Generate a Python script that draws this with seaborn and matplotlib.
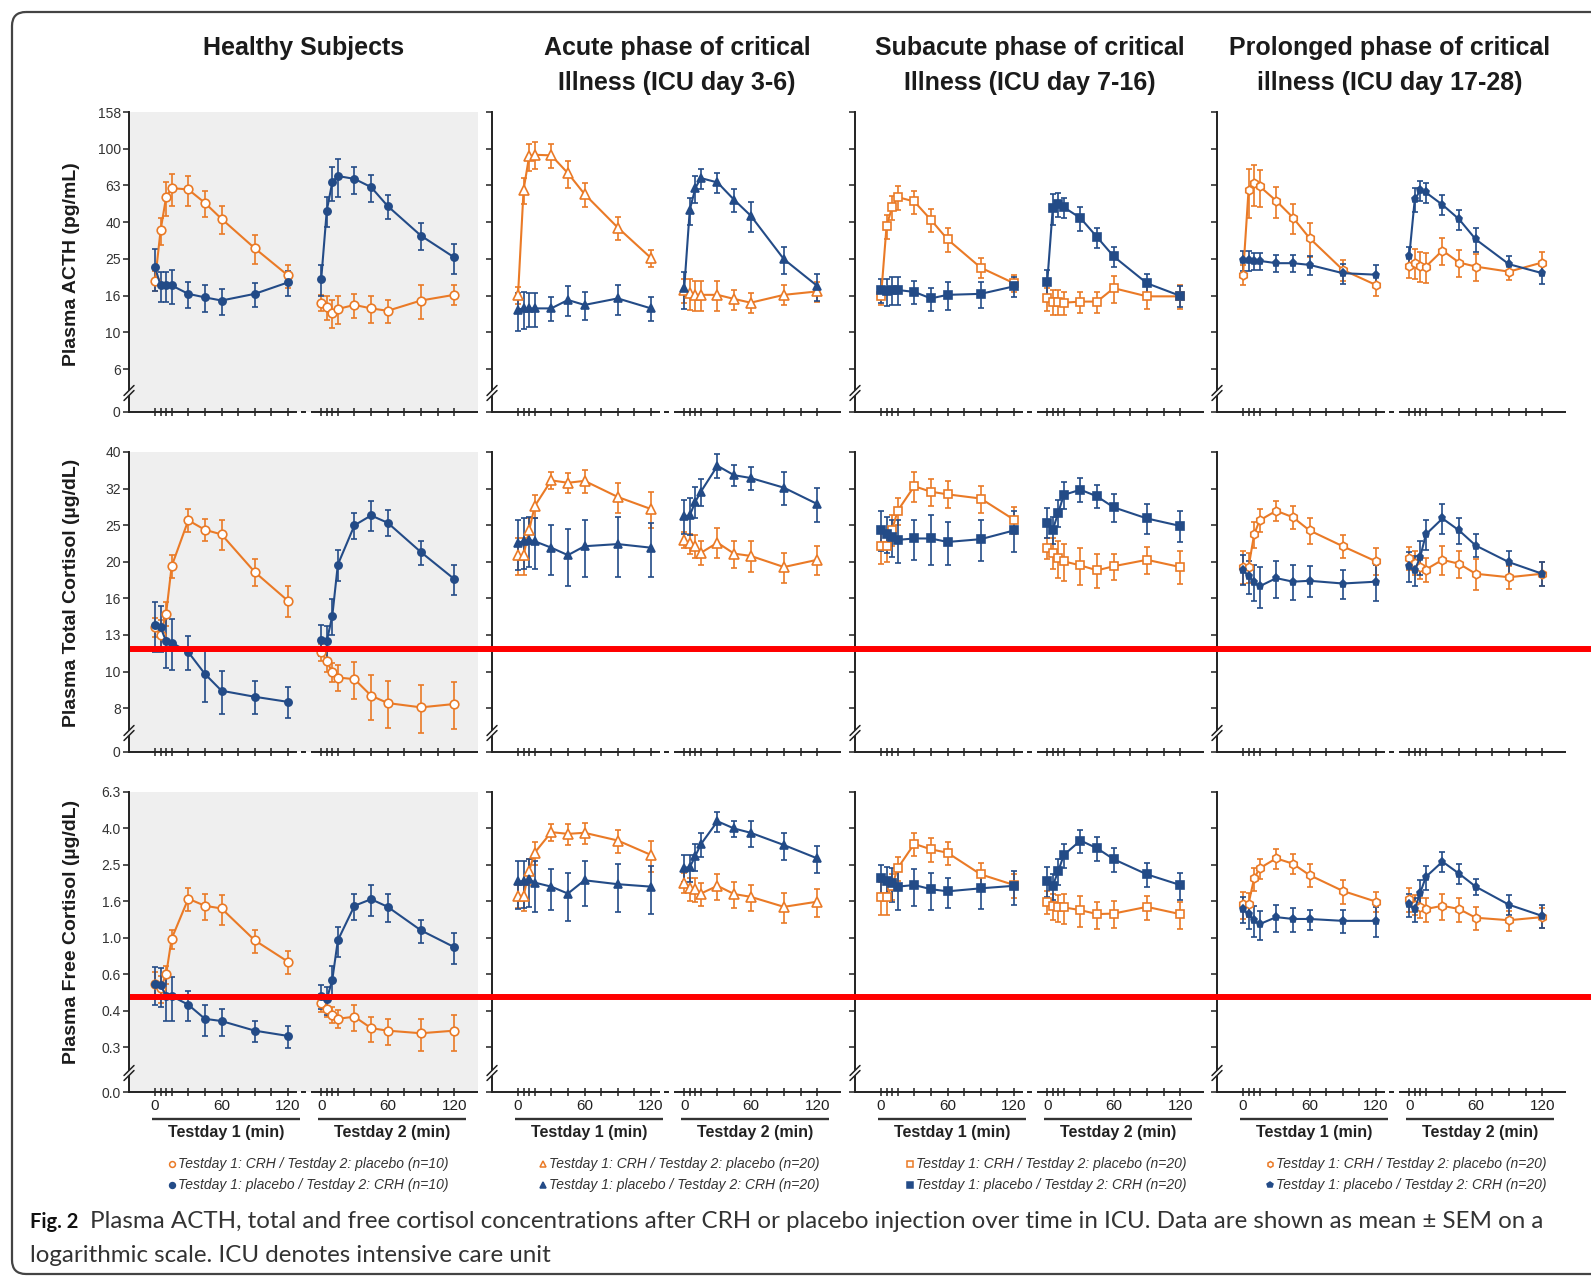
import numpy as np
import matplotlib
matplotlib.use("Agg")
import matplotlib.pyplot as plt
import matplotlib.ticker as mticker
import matplotlib.transforms as mtransforms
from matplotlib import font_manager
from matplotlib.patches import FancyBboxPatch, Polygon
import seaborn as sns

# ---------------------------------------------------------------------------
# Sampling schedule (minutes after injection) and panel headings
# ---------------------------------------------------------------------------
times = [0, 5, 10, 15, 30, 45, 60, 90, 120]
tick_times = [0, 5, 10, 15, 30, 45, 60, 75, 90, 105, 120]
labelled_times = [0, 60, 120]
DAY2_OFFSET = 150

column_titles = [
    ["Healthy Subjects"],
    ["Acute phase of critical", "Illness (ICU day 3-6)"],
    ["Subacute phase of critical", "Illness (ICU day 7-16)"],
    ["Prolonged phase of critical", "illness (ICU day 17-28)"],
]
group_n = [10, 20, 20, 20]
row_titles = ["Plasma ACTH (pg/mL)", "Plasma Total Cortisol (µg/dL)", "Plasma Free Cortisol (µg/dL)"]

acth_tick_labels = ["6", "10", "16", "25", "40", "63", "100", "158"]
total_tick_labels = ["8", "10", "13", "16", "20", "25", "32", "40"]
free_tick_labels = ["0.3", "0.4", "0.6", "1.0", "1.6", "2.5", "4.0", "6.3"]
zero_labels = ["0", "0", "0.0"]

# ---------------------------------------------------------------------------
# ACTH (pg/mL): mean and SEM, one list per column
# "crh_first" = CRH on test day 1, placebo on test day 2
# ---------------------------------------------------------------------------
acth_crh_first_day1 = [
    [19.1, 35.9, 54.5, 61, 60, 50.7, 41.5, 28.7, 20.4],
    [16, 59.7, 90.8, 92.7, 92, 73.6, 56.6, 37.2, 25.4],
    [15.7, 38, 48, 54.5, 51.6, 41, 32.1, 22.5, 18.5],
    [20.6, 59.7, 65, 62.4, 52, 42.2, 32.6, 21.9, 18.1],
]
acth_crh_first_day1_sem = [
    [2.4, 6.0, 11.4, 12, 11.1, 8.1, 7.0, 5.1, 3.0],
    [1.7, 10, 15.3, 15.6, 13.5, 12.4, 8.3, 5.5, 2.7],
    [1.6, 5.6, 7.1, 8.0, 7.6, 6.0, 4.7, 2.8, 1.9],
    [2.6, 17.6, 16.4, 14.4, 9.8, 8.0, 6.8, 2.8, 2.3],
]
acth_crh_first_day2 = [
    [14.5, 13.7, 12.8, 13.4, 14.1, 13.5, 13.1, 14.9, 16],
    [17, 16.3, 16, 16, 16, 15.2, 14.5, 16, 16.7],
    [15.3, 14.7, 14.7, 14.5, 14.7, 14.7, 17.4, 15.7, 15.7],
    [23.1, 24, 23.1, 22.8, 27.9, 24, 22.8, 21.4, 24],
]
acth_crh_first_day2_sem = [
    [1.5, 2.0, 2.2, 2.3, 2.1, 2.3, 1.9, 3.1, 2.0],
    [2.5, 3.1, 3.0, 3.0, 3.0, 1.9, 1.8, 2.0, 2.1],
    [2.2, 2.2, 2.2, 2.1, 1.9, 1.9, 2.9, 2.3, 2.3],
    [3.4, 4.5, 4.4, 4.3, 4.7, 4.0, 3.8, 2.2, 3.5],
]
acth_placebo_first_day1 = [
    [22.6, 18.0, 18.0, 18.0, 16.2, 15.5, 14.9, 16.2, 18.7],
    [13.3, 13.5, 13.5, 13.5, 13.5, 15, 14.1, 15.3, 13.5],
    [17, 16.7, 17, 17, 16.6, 15.3, 16, 16.2, 17.8],
    [24.8, 24.8, 24.5, 24.5, 23.8, 23.8, 23.3, 21, 20.6],
]
acth_placebo_first_day1_sem = [
    [5.9, 3.4, 3.4, 3.8, 2.7, 2.6, 2.4, 2.4, 3.0],
    [3.1, 3.1, 2.8, 2.8, 2.0, 2.8, 2.4, 2.9, 2.0],
    [2.5, 2.8, 2.9, 2.9, 2.4, 2.2, 2.7, 2.7, 2.2],
    [3.1, 3.1, 2.6, 2.6, 2.5, 2.5, 2.9, 2.6, 2.6],
]
acth_placebo_first_day2 = [
    [19.5, 46, 65.8, 71, 68.5, 61.8, 48.7, 33.6, 25.6],
    [17.4, 46.4, 61, 69.2, 65.5, 52.7, 43.2, 25, 17.9],
    [18.7, 47.4, 50, 48, 41.9, 33, 25.9, 18.5, 15.8],
    [25.9, 53, 59.3, 57.8, 49.5, 41.3, 32.1, 23.5, 21],
]
acth_placebo_first_day2_sem = [
    [3.7, 8.7, 13.8, 16.4, 11.5, 10.4, 7.2, 5.6, 4.8],
    [4.0, 7.8, 10.2, 8.7, 8.3, 7.7, 8.2, 4.2, 3.0],
    [3.1, 9.0, 7.4, 6.0, 6.2, 4.2, 3.3, 2.3, 2.0],
    [3.3, 7.8, 7.5, 7.3, 6.2, 5.2, 4.7, 2.5, 2.6],
]

# ---------------------------------------------------------------------------
# Total cortisol (µg/dL)
# ---------------------------------------------------------------------------
total_crh_first_day1 = [
    [13.2, 12.6, 14.4, 19.4, 25.9, 24.4, 23.7, 18.7, 15.6],
    [20.8, 20.8, 24.3, 28.3, 33.3, 32.8, 33.2, 30, 27.8],
    [22, 22, 24.4, 27.5, 32.1, 31, 30.5, 29.7, 26],
    [19.3, 19.3, 23.7, 25.9, 27.5, 26.4, 24.3, 22, 20],
]
total_crh_first_day1_sem = [
    [0.8, 1.2, 1.1, 1.4, 1.9, 1.7, 2.2, 1.6, 1.5],
    [2.4, 2.4, 2.0, 2.1, 1.8, 2.1, 2.4, 2.8, 3.2],
    [2.3, 2.1, 2.3, 2.3, 3.0, 2.6, 2.6, 2.5, 2.2],
    [2.0, 1.8, 2.0, 1.9, 1.7, 1.9, 2.0, 1.6, 1.7],
]
total_crh_first_day2 = [
    [11.3, 10.7, 9.94, 9.63, 9.53, 8.59, 8.2, 7.98, 8.15],
    [22.9, 22.4, 22, 21.1, 22.5, 21, 20.7, 19.3, 20.2],
    [21.7, 21.1, 20.4, 20, 19.5, 18.9, 19.4, 20.2, 19.3],
    [20.4, 19.8, 19.3, 19, 20.2, 19.7, 18.5, 18.1, 18.5],
]
total_crh_first_day2_sem = [
    [0.6, 0.7, 0.6, 0.8, 1.1, 1.2, 1.2, 1.2, 1.2],
    [1.2, 1.4, 1.6, 1.6, 2.1, 1.8, 2.0, 1.8, 1.9],
    [1.4, 2.0, 2.4, 2.3, 2.3, 2.0, 1.6, 1.7, 2.0],
    [1.5, 1.5, 1.4, 1.4, 1.9, 1.7, 1.8, 1.3, 1.4],
]
total_placebo_first_day1 = [
    [13.4, 13.2, 12.1, 12, 11.3, 9.85, 8.86, 8.53, 8.26],
    [22.5, 22.7, 22.9, 22.7, 21.8, 20.8, 22, 22.3, 21.8],
    [24.4, 23.8, 23.3, 22.9, 23.1, 23.1, 22.6, 23, 24.3],
    [19, 18.2, 17.6, 17.1, 18, 17.6, 17.7, 17.4, 17.6],
]
total_placebo_first_day1_sem = [
    [2.1, 1.9, 1.9, 1.9, 1.2, 1.6, 1.2, 0.9, 0.8],
    [3.5, 3.6, 3.6, 3.6, 3.4, 3.7, 3.9, 4.2, 3.7],
    [3.1, 2.7, 2.7, 3.1, 2.9, 3.6, 3.1, 2.9, 3.1],
    [1.8, 1.9, 2.0, 2.2, 2.1, 1.9, 1.7, 1.6, 2.0],
]
total_placebo_first_day2 = [
    [12.2, 12.1, 14.2, 19.6, 25.1, 26.7, 25.5, 21.2, 17.9],
    [26.6, 26.7, 29.1, 31, 36.5, 34.4, 33.8, 31.8, 28.7],
    [25.5, 24.4, 27.2, 30.4, 31.4, 30.1, 28.1, 26.2, 25],
    [19.4, 18.9, 20.6, 23.7, 26.2, 24.3, 22.1, 19.9, 18.5],
]
total_placebo_first_day2_sem = [
    [1.2, 1.2, 1.6, 1.9, 2.1, 2.5, 2.1, 1.6, 1.7],
    [2.8, 3.1, 2.8, 2.6, 2.7, 2.2, 2.5, 3.3, 3.0],
    [2.4, 2.1, 2.3, 2.6, 2.3, 2.2, 2.4, 2.5, 2.4],
    [1.8, 1.8, 2.2, 2.2, 2.5, 2.0, 1.6, 1.5, 1.4],
]

# ---------------------------------------------------------------------------
# Free cortisol (µg/dL)
# ---------------------------------------------------------------------------
free_crh_first_day1 = [
    [0.56, 0.53, 0.63, 0.99, 1.64, 1.50, 1.45, 0.97, 0.74],
    [1.70, 1.70, 2.33, 2.93, 3.80, 3.72, 3.77, 3.42, 2.85],
    [1.68, 1.68, 1.93, 2.41, 3.28, 3.06, 2.93, 2.23, 1.95],
    [1.53, 1.54, 2.12, 2.41, 2.73, 2.55, 2.21, 1.81, 1.58],
]
free_crh_first_day1_sem = [
    [0.09, 0.09, 0.07, 0.12, 0.24, 0.25, 0.27, 0.14, 0.11],
    [0.25, 0.29, 0.39, 0.43, 0.40, 0.47, 0.48, 0.50, 0.54],
    [0.35, 0.35, 0.32, 0.35, 0.48, 0.45, 0.43, 0.33, 0.29],
    [0.26, 0.23, 0.31, 0.30, 0.34, 0.32, 0.32, 0.27, 0.20],
]
free_crh_first_day2 = [
    [0.44, 0.41, 0.38, 0.36, 0.37, 0.32, 0.31, 0.30, 0.31],
    [2.01, 1.87, 1.85, 1.75, 1.93, 1.74, 1.68, 1.48, 1.58],
    [1.58, 1.50, 1.47, 1.47, 1.42, 1.35, 1.36, 1.48, 1.35],
    [1.63, 1.52, 1.47, 1.44, 1.50, 1.44, 1.29, 1.25, 1.30],
]
free_crh_first_day2_sem = [
    [0.05, 0.04, 0.04, 0.04, 0.06, 0.05, 0.05, 0.06, 0.07],
    [0.25, 0.27, 0.27, 0.26, 0.32, 0.29, 0.28, 0.28, 0.27],
    [0.23, 0.25, 0.25, 0.28, 0.27, 0.23, 0.23, 0.22, 0.23],
    [0.24, 0.19, 0.19, 0.21, 0.25, 0.21, 0.19, 0.16, 0.16],
]
free_placebo_first_day1 = [
    [0.56, 0.55, 0.48, 0.48, 0.43, 0.36, 0.35, 0.31, 0.29],
    [2.04, 2.05, 2.10, 2.01, 1.91, 1.75, 2.07, 1.97, 1.91],
    [2.12, 2.06, 1.99, 1.91, 1.95, 1.85, 1.80, 1.87, 1.93],
    [1.44, 1.35, 1.25, 1.19, 1.30, 1.27, 1.27, 1.24, 1.24],
]
free_placebo_first_day1_sem = [
    [0.13, 0.13, 0.13, 0.13, 0.08, 0.07, 0.06, 0.04, 0.04],
    [0.60, 0.60, 0.62, 0.63, 0.48, 0.51, 0.57, 0.58, 0.56],
    [0.40, 0.39, 0.42, 0.48, 0.45, 0.43, 0.34, 0.43, 0.41],
    [0.24, 0.23, 0.24, 0.22, 0.22, 0.19, 0.16, 0.18, 0.23],
]
free_placebo_first_day2 = [
    [0.48, 0.46, 0.59, 0.97, 1.50, 1.63, 1.48, 1.10, 0.89],
    [2.43, 2.44, 2.81, 3.26, 4.36, 3.98, 3.77, 3.23, 2.73],
    [2.06, 1.93, 2.33, 2.85, 3.42, 3.10, 2.70, 2.23, 1.95],
    [1.53, 1.44, 1.77, 2.16, 2.62, 2.25, 1.91, 1.52, 1.32],
]
free_placebo_first_day2_sem = [
    [0.07, 0.08, 0.11, 0.18, 0.25, 0.31, 0.25, 0.16, 0.17],
    [0.41, 0.41, 0.47, 0.48, 0.55, 0.42, 0.63, 0.54, 0.46],
    [0.39, 0.32, 0.39, 0.42, 0.50, 0.46, 0.40, 0.33, 0.33],
    [0.22, 0.21, 0.30, 0.32, 0.33, 0.28, 0.20, 0.19, 0.19],
]

caption_head = "Fig. 2"
caption_line1 = ("Plasma ACTH, total and free cortisol concentrations after CRH or placebo "
                 "injection over time in ICU. Data are shown as mean \u00b1 SEM on a")
caption_line2 = "logarithmic scale. ICU denotes intensive care unit"

# ---------------------------------------------------------------------------
# Style
# ---------------------------------------------------------------------------
sns.set_theme(style="ticks")
installed = {f.name for f in font_manager.fontManager.ttflist}
HAS_NARROW = "Liberation Sans Narrow" in installed
NARROW = "Liberation Sans Narrow" if HAS_NARROW else "Liberation Sans"
CAPTION_FONT = "Lato" if "Lato" in installed else "Open Sans"
plt.rcParams["font.family"] = ["Liberation Sans", "DejaVu Sans"]
plt.rcParams["axes.unicode_minus"] = False

ORANGE = "#EA7A26"
BLUE = "#234B87"
INK = "#222222"
PANEL_GREY = "#EFEFEF"

orange_markers = ["o", "^", "s", "h"]
blue_markers = ["o", "^", "s", "p"]

W, H, DPI = 1591, 1277, 100
col_left = [129, 492, 855, 1217]
row_top = [112, 452, 792]
AX_W, AX_H = 349, 300
X_LO, X_HI = -23.5, 291.5

hormones = [
    dict(exps=np.arange(0.8, 2.21, 0.2), bottom=0.566, labels=acth_tick_labels,
         series=[(acth_crh_first_day1, acth_crh_first_day1_sem, 0, "orange"),
                 (acth_crh_first_day2, acth_crh_first_day2_sem, DAY2_OFFSET, "orange"),
                 (acth_placebo_first_day1, acth_placebo_first_day1_sem, 0, "blue"),
                 (acth_placebo_first_day2, acth_placebo_first_day2_sem, DAY2_OFFSET, "blue")]),
    dict(exps=np.arange(0.9, 1.61, 0.1), bottom=0.78, labels=total_tick_labels,
         series=[(total_crh_first_day1, total_crh_first_day1_sem, 0, "orange"),
                 (total_crh_first_day2, total_crh_first_day2_sem, DAY2_OFFSET, "orange"),
                 (total_placebo_first_day1, total_placebo_first_day1_sem, 0, "blue"),
                 (total_placebo_first_day2, total_placebo_first_day2_sem, DAY2_OFFSET, "blue")]),
    dict(exps=np.arange(-0.6, 0.81, 0.2), bottom=-0.845, labels=free_tick_labels,
         series=[(free_crh_first_day1, free_crh_first_day1_sem, 0, "orange"),
                 (free_crh_first_day2, free_crh_first_day2_sem, DAY2_OFFSET, "orange"),
                 (free_placebo_first_day1, free_placebo_first_day1_sem, 0, "blue"),
                 (free_placebo_first_day2, free_placebo_first_day2_sem, DAY2_OFFSET, "blue")]),
]

fig = plt.figure(figsize=(W / DPI, H / DPI), dpi=DPI)
fig.patch.set_facecolor("white")

# full-figure overlay in pixel units (y downwards) for headings, legends and frame
over = fig.add_axes([0, 0, 1, 1], zorder=20)
over.set_xlim(0, W)
over.set_ylim(H, 0)
over.axis("off")


def marker_style(group, c):
    if group == "orange":
        return dict(color=ORANGE, marker=orange_markers[c], markerfacecolor="white",
                    markeredgecolor=ORANGE, markersize=6.2 if c != 1 else 6.8)
    return dict(color=BLUE, marker=blue_markers[c], markerfacecolor=BLUE,
                markeredgecolor=BLUE, markersize=5.2 if c != 1 else 6.2)


for r, hm in enumerate(hormones):
    for c in range(4):
        left, top = col_left[c], row_top[r]
        ax = fig.add_axes([left / W, 1 - (top + AX_H) / H, AX_W / W, AX_H / H])
        ax.set_facecolor(PANEL_GREY if c == 0 else "white")
        ax.set_yscale("log")

        for mean, sem, offset, group in hm["series"]:
            x = np.asarray(times, dtype=float) + offset
            m = np.asarray(mean[c], dtype=float)
            s = np.asarray(sem[c], dtype=float)
            style = marker_style(group, c)
            ax.errorbar(x, m, yerr=s, fmt="none", ecolor=style["color"], elinewidth=1.2,
                        capsize=2.3, capthick=1.2, zorder=2)
            sns.lineplot(x=x, y=m, ax=ax, linewidth=1.5, markeredgewidth=1.2,
                         errorbar=None, legend=False, zorder=3, **style)

        # axis frame: left spine plus a broken baseline between the two test days
        for side in ("top", "right", "bottom"):
            ax.spines[side].set_visible(False)
        ax.spines["left"].set_color(INK)
        ax.spines["left"].set_linewidth(1.4)
        base = mtransforms.blended_transform_factory(ax.transData, ax.transAxes)
        for a, b in [(X_LO, 128), (132, 136), (141, X_HI)]:
            ax.plot([a, b], [0, 0], transform=base, color=INK, lw=1.4,
                    clip_on=False, solid_capstyle="butt", zorder=5)

        xt, xl = [], []
        for offset in (0, DAY2_OFFSET):
            for t in tick_times:
                xt.append(t + offset)
                xl.append(str(t) if (r == 2 and t in labelled_times) else "")
        ax.set_xticks(xt)
        ax.set_xticklabels(xl, fontfamily=NARROW, fontsize=12.5 if HAS_NARROW else 11, color=INK)
        ax.tick_params(axis="x", direction="inout", length=6, width=1.1, color=INK, pad=2)

        yt = [10 ** hm["bottom"]] + [10 ** e for e in hm["exps"]]
        ax.set_yticks(yt)
        ax.yaxis.set_minor_locator(mticker.NullLocator())
        if c == 0:
            ax.set_yticklabels([zero_labels[r]] + hm["labels"], fontfamily=NARROW,
                               fontsize=11.5 if HAS_NARROW else 10, color="#333333")
        else:
            ax.set_yticklabels([""] * len(yt))
        ax.tick_params(axis="y", direction="out", length=4, width=1.1, color=INK, pad=2)
        ax.set_xlim(X_LO, X_HI)
        ax.set_ylim(10 ** hm["bottom"], 10 ** hm["exps"][-1])
        ax.set_xlabel("")
        ax.set_ylabel("")

        if r == 2:
            for offset, name in [(0, "Testday 1 (min)"), (DAY2_OFFSET, "Testday 2 (min)")]:
                ax.plot([offset - 3, offset + 131], [-0.09, -0.09], transform=base,
                        color="#333333", lw=1.7, clip_on=False, solid_capstyle="butt")
                ax.text(offset + 64, -0.135, name, transform=base, ha="center", va="center",
                        fontweight="bold", fontfamily=NARROW,
                        fontsize=13.5 if HAS_NARROW else 11.5, color=INK)

        # "//" break on the value axis just above zero
        xs, yc = left, top + AX_H - 19
        over.add_patch(Polygon([[xs - 2, yc - 2.5 + 2], [xs + 2, yc - 2.5 - 2],
                                [xs + 2, yc + 2.5 - 2], [xs - 2, yc + 2.5 + 2]],
                               closed=True, facecolor=PANEL_GREY if c == 0 else "white",
                               edgecolor="none"))
        for dy in (-2.5, 2.5):
            over.plot([xs - 5, xs + 5], [yc + dy + 5, yc + dy - 5], color=INK, lw=1.1)

# column headings
title_x = [304, 677, 1030, 1390]
for c, lines in enumerate(column_titles):
    for k, line in enumerate(lines):
        over.text(title_x[c], 48 + 35 * k, line, ha="center", va="center",
                  fontsize=18, fontweight="bold", color="#1b1b1b")

# row labels
row_label_y = [264, 593, 932]
for r, name in enumerate(row_titles):
    over.text(72, row_label_y[r], name, ha="center", va="center", rotation=90,
              fontsize=14, fontweight="bold", color="#1b1b1b")

# legends under each column
legend_x = [172, 543, 910, 1270]
legend_y = [1164, 1185]
for c in range(4):
    entries = [("orange", f"Testday 1: CRH / Testday 2: placebo (n={group_n[c]})"),
               ("blue", f"Testday 1: placebo / Testday 2: CRH (n={group_n[c]})")]
    for k, (group, text) in enumerate(entries):
        st = marker_style(group, c)
        over.plot([legend_x[c]], [legend_y[k]], linestyle="none", marker=st["marker"],
                  markersize=4.2, markerfacecolor=st["markerfacecolor"],
                  markeredgecolor=st["markeredgecolor"], markeredgewidth=1.1)
        over.text(legend_x[c] + 6, legend_y[k], text, ha="left", va="center",
                  fontstyle="italic", fontfamily=NARROW,
                  fontsize=12.2 if HAS_NARROW else 10, color="#333333")

# red guide lines across the cortisol rows
for yline in (649, 997):
    over.plot([130, W], [yline, yline], color="#FF0000", lw=4.3, solid_capstyle="butt", zorder=30)

# page frame
over.add_patch(FancyBboxPatch((12, 12), 1620, 1262, boxstyle="round,pad=0,rounding_size=14",
                              fill=False, edgecolor="#444444", linewidth=1.6))

# caption
renderer = fig.canvas.get_renderer()
head = over.text(30, 1222, caption_head, ha="left", va="center", fontfamily=CAPTION_FONT,
                 fontsize=14.5, fontweight="bold", color="#111111")
hb = head.get_window_extent(renderer)
body = over.text(30 + hb.width + 12, 1222, caption_line1, ha="left", va="center",
                 fontfamily=CAPTION_FONT, fontsize=14.5, color="#333333")
bw = body.get_window_extent(renderer).width
size = 14.5 * (1540 - (30 + hb.width + 12)) / bw
body.set_fontsize(size)
over.text(30, 1255, caption_line2, ha="left", va="center", fontfamily=CAPTION_FONT,
          fontsize=size, color="#333333")

fig.savefig("out.png", dpi=DPI, facecolor="white")
